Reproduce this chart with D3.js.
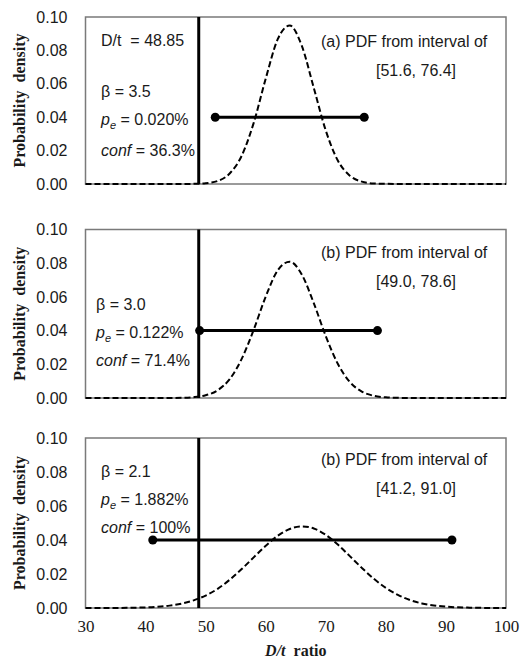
<!DOCTYPE html>
<html>
<head>
<meta charset="utf-8">
<script src="https://cdn.jsdelivr.net/npm/d3@7"></script>
<style>
  body { margin: 0; background: #fff; }
  svg { display: block; }
</style>
</head>
<body>
<div id="chart"></div>
<script>
// D/t grid shared by the three density curves
const xGrid = [30, 32, 34, 36, 38, 40, 42, 44, 46, 48, 50, 52, 54, 56, 58, 60, 62, 64, 66, 68,
               70, 72, 74, 76, 78, 80, 82, 84, 86, 88, 90, 92, 94, 96, 98, 100];

// densities
const pdfA = [0, 0, 0, 0, 0, 0, 0, 0, 0.00001, 0.00008, 0.00043, 0.0018, 0.0063, 0.0169, 0.0366, 0.0631, 0.0867, 0.0949, 0.0828, 0.0576,
              0.0320, 0.0141, 0.0050, 0.0014, 0.0003, 0.0001, 0, 0, 0, 0, 0, 0, 0, 0, 0, 0];
const pdfB = [0, 0, 0, 0, 0, 0, 0.000005, 0.000025, 0.00012, 0.00048, 0.0016, 0.0046, 0.0112, 0.0232, 0.0405, 0.0602, 0.0758, 0.0809, 0.0733, 0.0563,
              0.0367, 0.0203, 0.0095, 0.0038, 0.0013, 0.0004, 0.00009, 0.00002, 0, 0, 0, 0, 0, 0, 0, 0];
const pdfC = [0.000004, 0.00001, 0.00003, 0.00007, 0.00016, 0.00034, 0.00071, 0.0014, 0.0026, 0.0045, 0.0073, 0.0113, 0.0166, 0.0229, 0.0298, 0.0366, 0.0425, 0.0465, 0.0480, 0.0468,
              0.0430, 0.0373, 0.0305, 0.0236, 0.0172, 0.0118, 0.0077, 0.0047, 0.0027, 0.0015, 0.0008, 0.0004, 0.0002, 0.00007, 0.00003, 0.00001];

const intervals = [[51.6, 76.4], [49.0, 78.6], [41.2, 91.0]];
const intervalLevel = 0.04;
const dtValue = 48.85;

const betas = ['3.5', '3.0', '2.1'];
const pes = ['0.020%', '0.122%', '1.882%'];
const confs = ['36.3%', '71.4%', '100%'];
const captions = ['(a) PDF from interval of', '(b) PDF from interval of', '(b) PDF from interval of'];

const yTicks = [0, 0.02, 0.04, 0.06, 0.08, 0.10];
const xTicks = [30, 40, 50, 60, 70, 80, 90, 100];

const width = 523, height = 662;
const panels = [
    { top: 17, bottom: 184, pdf: pdfA, showDt: true },
    { top: 229.5, bottom: 398, pdf: pdfB },
    { top: 438, bottom: 608, pdf: pdfC }
];

const svg = d3.select('#chart').append('svg')
    .attr('width', width)
    .attr('height', height);

const x = d3.scaleLinear().domain([30, 100]).range([85.5, 506]);
const sans = 'Arial, "Liberation Sans", sans-serif';
const serif = '"Times New Roman", "Liberation Serif", serif';
const ink = '#1a1a1a';

panels.forEach((p, i) => {
    const y = d3.scaleLinear().domain([0, 0.1]).range([p.bottom, p.top]);
    const g = svg.append('g');

    // y axis labels only
    const yAxis = g.append('g')
        .attr('transform', `translate(${x(30)},0)`)
        .call(d3.axisLeft(y).tickValues(yTicks).tickFormat(d3.format('.2f')).tickSize(0).tickPadding(18));
    yAxis.select('.domain').remove();
    yAxis.selectAll('text')
        .attr('font-family', sans)
        .attr('font-size', 16)
        .attr('fill', ink);

    g.append('text')
        .attr('transform', `translate(25,${(p.top + p.bottom) / 2}) rotate(-90)`)
        .attr('text-anchor', 'middle')
        .attr('font-family', serif)
        .attr('font-weight', 'bold')
        .attr('font-size', 16)
        .attr('fill', ink)
        .attr('xml:space', 'preserve')
        .text('Probability  density');

    // frame
    g.append('rect')
        .attr('x', x(30))
        .attr('y', y(0.1))
        .attr('width', x(100) - x(30))
        .attr('height', y(0) - y(0.1))
        .attr('fill', 'none')
        .attr('stroke', '#7a7a7a')
        .attr('stroke-width', 1.5);

    // D/t line
    g.append('line')
        .attr('x1', x(dtValue)).attr('x2', x(dtValue))
        .attr('y1', y(0)).attr('y2', y(0.1))
        .attr('stroke', '#000')
        .attr('stroke-width', 3);

    // dashed pdf curve
    const line = d3.line()
        .x((d, k) => x(xGrid[k]))
        .y(d => y(d))
        .curve(d3.curveMonotoneX);
    g.append('path')
        .datum(p.pdf)
        .attr('d', line)
        .attr('fill', 'none')
        .attr('stroke', '#000')
        .attr('stroke-width', 2)
        .attr('stroke-dasharray', '6,3');

    // interval bar
    const iv = intervals[i];
    g.append('line')
        .attr('x1', x(iv[0])).attr('x2', x(iv[1]))
        .attr('y1', y(intervalLevel)).attr('y2', y(intervalLevel))
        .attr('stroke', '#000')
        .attr('stroke-width', 3);
    g.selectAll('circle')
        .data(iv)
        .enter()
        .append('circle')
        .attr('cx', d => x(d))
        .attr('cy', y(intervalLevel))
        .attr('r', 4.5)
        .attr('fill', '#000');

    // annotation text
    const txt = (tx, ty) => g.append('text')
        .attr('x', tx).attr('y', ty)
        .attr('font-family', sans)
        .attr('font-size', 16)
        .attr('fill', ink);

    const lx = i === 1 ? 96 : 101;
    const rows = i === 0 ? [97, 125, 156] : i === 1 ? [310, 338, 366] : [477, 505, 533];
    if (p.showDt) {
        txt(lx, 46).attr('xml:space', 'preserve').text('D/t  = ' + dtValue.toFixed(2));
    }
    txt(lx, rows[0]).text('β = ' + betas[i]);
    const pe = txt(lx, rows[1]);
    pe.append('tspan').attr('font-style', 'italic').text('p');
    pe.append('tspan').attr('font-style', 'italic').attr('font-size', 11).attr('dy', 4).text('e');
    pe.append('tspan').attr('dy', -4).text(' = ' + pes[i]);
    const cf = txt(lx, rows[2]);
    cf.append('tspan').attr('font-style', 'italic').text('conf');
    cf.append('tspan').text(' = ' + confs[i]);

    const capY = i === 0 ? 47 : i === 1 ? 258 : 465;
    txt(321, capY).text(captions[i]);
    txt(376, capY + 29).text('[' + iv[0].toFixed(1) + ', ' + iv[1].toFixed(1) + ']');

    // x labels on bottom panel
    if (i === panels.length - 1) {
        const xAxis = g.append('g')
            .attr('transform', `translate(0,${p.bottom})`)
            .call(d3.axisBottom(x).tickValues(xTicks).tickSize(0).tickPadding(12));
        xAxis.select('.domain').remove();
        xAxis.selectAll('text')
            .attr('font-family', serif)
            .attr('font-size', 17)
            .attr('fill', ink);

        const title = g.append('text')
            .attr('x', (x(30) + x(100)) / 2)
            .attr('y', 656)
            .attr('text-anchor', 'middle')
            .attr('font-family', serif)
            .attr('font-weight', 'bold')
            .attr('font-size', 16)
            .attr('fill', ink)
            .attr('xml:space', 'preserve');
        title.append('tspan').attr('font-style', 'italic').text('D/t');
        title.append('tspan').text('  ratio');
    }
});
</script>
</body>
</html>
